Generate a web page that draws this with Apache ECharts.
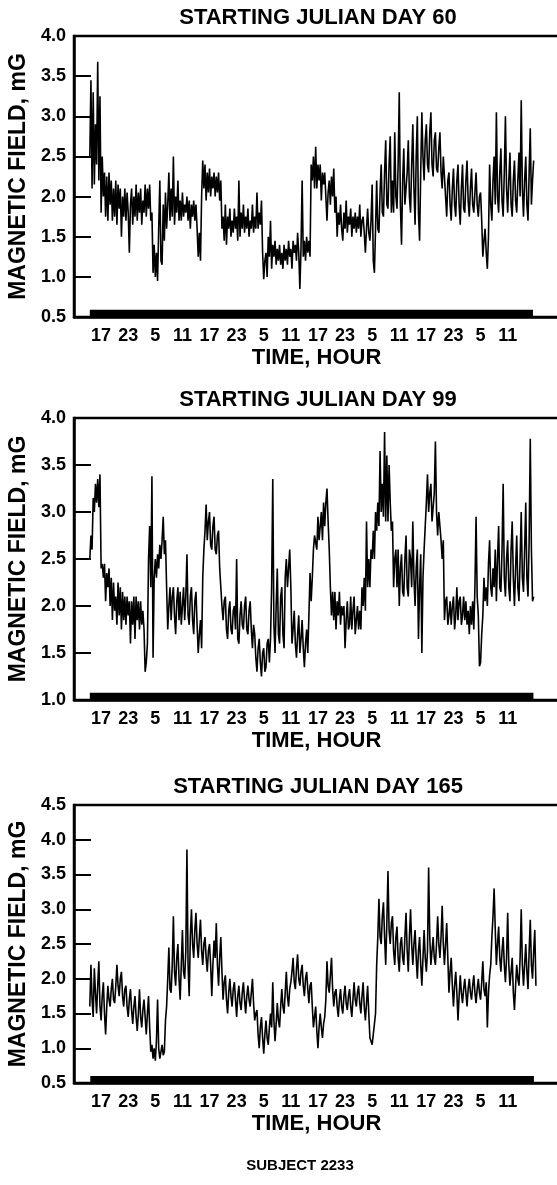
<!DOCTYPE html>
<html>
<head>
<meta charset="utf-8">
<script src="https://cdn.jsdelivr.net/npm/echarts@6/dist/echarts.min.js"></script>
<style>
  html, body { margin: 0; padding: 0; background: #fff; }
  #chart { width: 557px; height: 1185px; }
</style>
</head>
<body>
<div id="chart"></div>
<script>
// Clock-hour tick labels along the time axis (every 6 h)
const hourLabels = ['17','23','5','11','17','23','5','11','17','23','5','11','17','23','5','11'];

// Panel titles and footer
const panelTitles = ['STARTING JULIAN DAY 60', 'STARTING JULIAN DAY 99', 'STARTING JULIAN DAY 165'];
const footerText = 'SUBJECT 2233';

// Y ranges (mG) per panel
const yMins = [0.5, 1.0, 0.5];
const yMaxs = [4.0, 4.0, 4.5];

// Samples: elapsed hours since 11:00 of the starting day, every quarter hour
const sampleStart = 3.5;
const sampleStep = 0.25;

// Recording period drawn as the heavy bar under each trace (elapsed hours)
const recordStart = [3.5, 3.5, 3.6];
const recordEnd = [101.6, 101.7, 101.8];

// Magnetic field, mG — Julian day 60
const day60 = [
  2.5,3.45,2.1,3.3,2.15,2.9,2.4,3.68,
  2.2,3.25,1.8,2.5,2.0,2.3,1.75,2.25,
  1.7,2.3,1.9,2.2,1.7,2.1,1.75,2.2,
  1.65,2.15,1.85,2.1,1.5,2.0,1.75,2.1,
  1.7,2.05,1.8,1.3,1.9,2.1,1.65,2.0,
  1.75,2.15,1.7,2.05,1.8,2.1,1.65,1.95,
  1.8,2.15,1.75,2.1,1.85,2.15,1.7,1.8,
  1.05,1.4,1.0,1.3,0.95,1.6,2.2,1.2,
  1.15,1.9,1.45,2.05,1.6,1.9,2.3,1.7,
  2.1,1.75,2.5,1.65,2.0,1.8,2.2,1.7,
  1.95,1.7,2.05,1.75,1.9,1.8,2.0,1.7,
  1.95,1.6,1.9,1.75,1.95,1.7,1.9,1.6,
  1.25,1.55,1.2,2.0,2.45,2.1,2.4,1.95,
  2.3,2.05,2.35,2.0,2.25,2.1,2.3,2.0,
  2.25,2.05,2.3,1.95,2.2,1.6,1.75,1.45,
  1.9,1.4,1.75,1.6,1.85,1.5,1.7,1.55,
  1.85,1.6,1.75,1.45,2.2,1.5,1.8,1.6,
  1.9,1.55,1.75,1.6,1.85,1.5,1.7,1.6,
  1.9,1.55,1.75,1.6,2.05,1.6,1.8,1.65,
  1.95,1.3,0.97,1.2,1.3,1.0,1.5,1.25,
  1.7,1.1,1.4,1.25,1.45,1.15,1.35,1.2,
  1.4,1.15,1.3,1.1,1.4,1.2,1.35,1.15,
  1.45,1.25,1.35,1.1,1.45,1.3,1.4,1.2,
  1.55,1.3,0.85,1.35,2.2,1.25,1.45,1.2,
  1.5,1.3,1.45,1.25,2.4,2.2,2.5,2.1,
  2.62,2.1,2.4,2.2,2.4,1.95,2.3,2.15,
  2.3,2.0,1.7,2.05,2.2,1.9,2.25,2.0,
  2.35,1.8,2.0,1.5,1.8,1.65,1.9,1.6,
  1.45,1.8,1.6,1.95,1.55,1.75,1.65,1.85,
  1.5,1.75,1.6,1.8,1.55,1.75,1.6,1.9,
  1.5,1.7,1.75,1.55,1.3,1.6,1.85,1.55,
  1.45,1.7,2.15,1.2,1.05,1.6,2.2,1.6,
  1.55,2.05,2.4,1.8,1.75,2.3,2.7,1.9,
  1.85,2.4,2.75,1.8,2.2,1.8,2.8,2.0,
  1.85,2.4,3.3,1.9,1.4,2.2,2.6,1.9,
  1.9,2.3,2.7,2.0,1.8,2.4,2.9,2.1,
  1.65,2.5,3.0,1.8,1.45,2.3,3.05,2.5,
  2.2,2.7,2.9,2.4,2.3,2.8,3.05,2.4,
  2.25,2.7,2.8,2.35,2.3,2.6,2.8,2.3,
  2.1,2.5,2.5,2.0,1.75,2.2,2.3,1.9,
  1.7,2.1,2.35,1.9,1.75,2.2,2.4,1.9,
  1.65,2.1,2.4,1.85,1.8,2.2,2.45,1.95,
  1.75,2.1,2.35,1.9,1.8,2.05,2.3,1.9,
  1.75,2.0,2.05,1.7,1.25,1.45,1.6,1.3,
  1.1,1.5,2.4,1.9,1.7,2.2,2.5,1.9,
  3.05,2.0,1.8,2.3,2.6,1.95,1.75,2.3,
  3.0,2.1,1.8,2.2,2.55,1.9,1.75,2.2,
  2.45,1.95,1.8,2.2,2.55,2.0,3.2,2.1,
  1.75,2.2,2.5,1.9,1.7,2.3,2.85,1.9,
  2.2,2.45
];

// Magnetic field, mG — Julian day 99
const day99 = [
  2.5,2.75,2.6,3.15,3.0,3.3,3.1,3.35,
  3.05,3.4,2.4,2.45,2.3,2.45,2.05,2.35,
  2.2,2.4,2.0,2.3,1.85,2.25,1.95,2.1,
  1.8,2.25,1.9,2.2,1.75,2.15,1.85,2.1,
  1.8,2.1,1.9,2.05,1.6,2.05,1.8,2.1,
  1.65,2.1,1.85,2.05,1.75,2.05,1.8,1.95,
  1.75,1.3,1.4,1.6,2.5,2.85,2.2,3.38,
  1.45,2.3,2.5,2.3,2.55,2.4,2.65,2.5,
  2.7,2.95,2.55,2.7,2.2,1.75,2.0,2.2,
  1.85,2.1,2.2,1.9,1.7,2.05,2.2,1.85,
  2.15,1.8,2.0,2.2,1.85,2.1,2.55,1.9,
  1.8,2.1,2.2,1.85,1.7,2.05,2.15,1.8,
  1.5,1.7,1.85,1.55,2.3,2.6,2.8,3.08,
  2.7,2.9,3.0,2.65,2.6,2.85,2.95,2.6,
  2.55,2.75,2.8,2.4,2.2,2.0,1.85,2.05,
  2.1,1.75,1.65,1.95,2.05,1.75,1.7,1.95,
  2.0,1.75,2.5,1.65,1.6,1.9,2.05,1.8,
  1.75,2.0,2.1,1.75,1.7,1.95,2.05,1.75,
  1.55,1.8,1.7,1.45,1.3,1.55,1.65,1.4,
  1.25,1.5,1.55,1.3,1.35,1.6,1.65,1.4,
  1.65,2.2,3.35,1.8,1.5,2.0,2.4,1.7,
  1.6,2.1,2.2,1.7,1.55,2.3,2.5,2.2,
  2.4,2.6,2.2,1.6,1.75,1.95,1.6,1.45,
  1.7,1.9,1.5,1.65,1.85,1.55,1.35,1.6,
  1.75,1.5,1.9,2.35,2.05,2.3,2.6,2.75,
  2.75,2.6,2.95,2.7,2.85,3.0,2.7,3.1,
  2.85,3.1,3.25,2.9,2.6,2.2,1.9,2.15,
  1.85,2.15,1.75,2.05,1.9,2.15,1.8,2.0,
  1.9,2.0,1.55,1.85,2.05,1.75,1.8,2.1,
  1.75,1.95,2.1,1.7,1.85,2.0,1.75,1.95,
  1.75,2.2,2.0,2.3,1.95,2.9,2.2,2.5,
  2.2,2.6,2.5,2.8,2.5,3.0,2.8,3.1,
  2.85,3.65,3.0,3.3,2.95,3.85,2.9,3.6,
  2.9,3.5,3.1,2.8,2.9,2.2,2.5,2.6,
  2.2,2.6,2.0,2.4,2.55,2.15,2.1,2.5,
  2.75,2.2,2.1,2.6,2.5,2.2,2.9,2.3,
  2.0,2.4,2.6,1.65,2.2,2.55,1.5,2.3,
  2.6,2.85,3.1,3.4,3.0,3.2,3.3,2.9,
  2.9,3.2,3.75,3.0,2.75,3.0,3.0,2.7,
  2.5,2.7,1.85,2.05,2.1,1.8,1.9,2.05,
  1.8,2.0,2.1,1.75,1.9,2.2,1.85,2.05,
  2.1,1.8,1.9,2.1,1.85,2.05,1.8,1.95,
  1.7,2.0,1.8,2.05,1.75,2.2,2.95,2.1,
  1.9,1.36,1.4,1.7,1.9,2.3,2.05,2.2,
  2.0,2.45,2.7,2.2,2.1,2.4,2.2,2.6,
  2.05,2.5,2.85,2.2,2.15,2.6,3.3,2.3,
  2.1,2.5,2.7,2.2,2.05,2.6,2.9,2.3,
  2.0,2.4,2.75,2.2,2.05,2.5,3.0,2.3,
  2.15,2.6,3.1,2.3,2.1,2.7,3.78,2.6,
  2.05,2.1
];

// Magnetic field, mG — Julian day 165
const day165 = [
  1.6,2.2,1.7,1.45,2.15,1.8,1.5,1.9,
  2.25,1.6,1.4,1.75,1.95,1.5,1.2,1.6,
  1.9,1.7,1.6,1.85,2.0,1.7,1.65,1.9,
  2.2,1.9,1.75,2.0,2.1,1.75,1.6,1.85,
  1.9,1.6,1.45,1.7,1.85,1.55,1.35,1.6,
  1.75,1.45,1.25,1.5,1.85,1.45,1.3,1.55,
  1.7,1.45,1.2,1.5,1.75,1.3,0.95,1.05,
  0.85,1.0,0.82,1.1,1.7,1.0,0.85,0.95,
  1.05,0.9,0.95,1.4,1.6,2.0,2.45,1.85,
  1.8,2.2,2.9,2.1,1.9,2.3,2.5,2.0,
  1.7,2.2,2.7,2.1,2.0,2.4,3.86,2.2,
  1.75,2.6,3.0,2.5,2.3,2.7,2.95,2.5,
  2.3,2.6,2.85,2.4,2.2,2.5,2.6,2.3,
  2.1,2.4,2.5,2.2,1.75,2.2,2.55,2.3,
  2.8,2.2,1.9,2.3,2.6,2.1,1.7,1.95,
  2.05,1.7,1.5,1.8,2.0,1.75,1.6,1.85,
  1.95,1.7,1.45,1.75,1.9,1.65,1.55,1.8,
  1.95,1.7,1.5,1.75,1.9,1.7,1.6,1.8,
  2.0,1.65,1.4,1.5,1.55,1.2,1.0,1.3,
  1.45,1.15,0.92,1.2,1.4,1.15,1.05,1.3,
  1.5,1.3,1.95,1.4,1.1,1.35,1.65,1.4,
  1.3,1.6,1.85,1.6,1.5,1.8,2.1,1.75,
  1.6,1.85,1.95,2.1,2.3,1.95,1.85,2.15,
  2.35,2.0,1.9,2.1,2.2,1.9,1.75,2.0,
  2.1,1.85,1.65,1.9,1.95,1.6,1.3,1.45,
  1.6,1.25,1.0,1.3,1.5,1.3,1.15,1.35,
  1.45,1.7,2.25,1.9,1.8,2.05,2.3,1.85,
  1.6,1.8,1.85,1.6,1.45,1.7,1.85,1.6,
  1.5,1.75,1.9,1.65,1.55,1.75,1.85,1.6,
  1.45,1.7,1.95,1.7,1.6,1.8,1.9,1.65,
  1.5,1.75,1.95,1.6,1.4,1.65,1.9,1.5,
  1.15,1.1,1.05,1.2,1.2,1.5,2.2,2.6,
  3.15,2.6,2.5,2.9,3.1,2.6,2.2,2.8,
  3.55,2.7,2.5,2.8,2.9,2.4,2.2,2.6,
  2.75,2.3,2.1,2.5,2.6,2.3,2.2,2.6,
  2.95,2.4,2.1,2.6,3.0,2.5,2.2,2.5,
  2.7,2.3,2.0,2.4,2.6,2.2,1.9,2.3,
  2.7,2.3,2.1,2.4,3.6,2.6,2.2,2.4,
  2.6,2.3,2.2,2.5,2.9,2.5,2.3,2.6,
  3.05,2.5,2.2,2.5,2.8,2.3,1.8,2.1,
  2.3,1.9,1.6,1.9,2.1,1.8,1.4,1.75,
  2.05,1.8,1.65,1.85,2.0,1.8,1.6,1.85,
  2.0,1.8,1.7,1.9,2.05,1.8,1.65,1.85,
  2.0,1.8,1.7,1.95,2.25,1.85,1.75,1.95,
  1.3,1.8,2.05,2.2,2.6,2.9,3.3,2.7,
  2.2,2.5,2.75,2.3,2.1,2.4,2.6,2.2,
  1.95,2.3,2.95,2.2,1.9,2.1,2.3,1.8,
  1.55,1.9,2.2,2.0,1.9,2.3,3.0,2.2,
  1.9,2.2,2.5,2.1,1.85,2.4,2.85,2.2,
  2.0,2.4,2.7,1.9
];

const traces = [day60, day99, day165];

// ---- layout ----
const FONT = '"Liberation Sans", Arial, Helvetica, sans-serif';
const gridLeft = 74;
const gridWidth = 515;             // box continues past the right page edge
const gridTops = [36, 418, 805];
const gridHeights = [281, 282, 278];
const titleY = [18, 400, 787];
const footerY = 1166;

function hourLabel(v) {
  const k = Math.round(v / 6) - 1;
  return (k >= 0 && k < hourLabels.length) ? hourLabels[k] : '';
}

const grids = [], xAxes = [], yAxes = [], series = [], graphics = [];

traces.forEach((vals, p) => {
  grids.push({
    left: gridLeft, top: gridTops[p], width: gridWidth, height: gridHeights[p],
    outerBoundsMode: 'none', containLabel: false,
    show: true, borderColor: '#000', borderWidth: 2.5, backgroundColor: 'transparent'
  });
  xAxes.push({
    type: 'value', gridIndex: p, min: 0, max: 114, interval: 6,
    axisLine: { show: true, lineStyle: { color: '#000', width: 2.5 } },
    axisTick: { show: false },
    splitLine: { show: false },
    axisLabel: {
      formatter: hourLabel, color: '#000', fontFamily: FONT, fontWeight: 'bold',
      fontSize: 18, margin: 10
    },
    name: 'TIME, HOUR', nameLocation: 'middle', nameGap: 30,
    nameTextStyle: { color: '#000', fontFamily: FONT, fontWeight: 'bold', fontSize: 22,
                     padding: [0, 30, 0, 0] }
  });
  yAxes.push({
    type: 'value', gridIndex: p, min: yMins[p], max: yMaxs[p], interval: 0.5,
    axisLine: { show: true, lineStyle: { color: '#000', width: 2.5 } },
    axisTick: { show: true, inside: true, length: 17, lineStyle: { color: '#000', width: 2 } },
    splitLine: { show: false },
    axisLabel: {
      formatter: v => v.toFixed(1), color: '#000', fontFamily: FONT,
      fontWeight: 'bold', fontSize: 18, margin: 8
    },
    name: 'MAGNETIC FIELD, mG', nameLocation: 'middle', nameGap: 42, nameRotate: 90,
    nameTextStyle: { color: '#000', fontFamily: FONT, fontWeight: 'bold', fontSize: 23 }
  });

  series.push({
    type: 'line', xAxisIndex: p, yAxisIndex: p,
    data: vals.map((v, i) => [sampleStart + i * sampleStep, v]),
    showSymbol: false, animation: false,
    lineStyle: { color: '#000', width: 1.6 }
  });

  // heavy recording bar resting on the time axis
  const barLevel = yMins[p] + (yMaxs[p] - yMins[p]) * 0.013;
  series.push({
    type: 'line', xAxisIndex: p, yAxisIndex: p,
    data: [[recordStart[p], barLevel], [recordEnd[p], barLevel]],
    showSymbol: false, animation: false,
    lineStyle: { color: '#000', width: 7, cap: 'butt' }
  });

  graphics.push({
    type: 'text', x: 318, y: titleY[p],
    style: {
      text: panelTitles[p], fill: '#000', align: 'center', verticalAlign: 'middle',
      font: 'bold 22px ' + FONT
    }
  });
});

graphics.push({
  type: 'text', x: 300, y: footerY,
  style: {
    text: footerText, fill: '#000', align: 'center', verticalAlign: 'middle',
    font: 'bold 15px ' + FONT
  }
});

const chart = echarts.init(document.getElementById('chart'), null, { renderer: 'canvas' });
chart.setOption({
  backgroundColor: '#fff',
  animation: false,
  grid: grids,
  xAxis: xAxes,
  yAxis: yAxes,
  series: series,
  graphic: graphics
});
</script>
</body>
</html>
